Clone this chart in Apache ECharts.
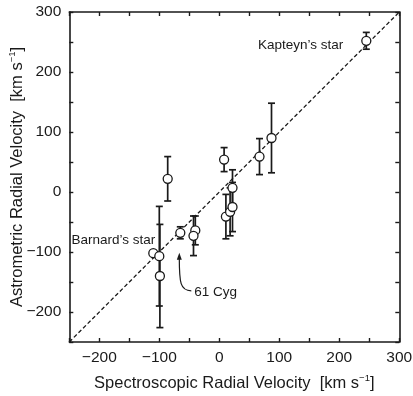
<!DOCTYPE html>
<html>
<head>
<meta charset="utf-8">
<script src="https://cdn.jsdelivr.net/npm/echarts@6/dist/echarts.min.js"></script>
<style>
  html, body { margin: 0; padding: 0; background: #fff; }
  #chart { width: 413px; height: 396px; }
</style>
</head>
<body>
<div id="chart"></div>
<script>
// Spectroscopic vs astrometric radial velocities (km/s)
const spectroscopic = [245, 87, 67, 8, 22, 11, 18, 22, -40, -43, -65, -86, -110, -100, -99];
const astrometric   = [252, 90, 59, 54, 7, -41, -33, -25, -64, -73, -68, 22, -102, -107, -140];
const astromErr     = [14, 58, 30, 20, 30, 37, 40, 41, 24, 33, 10, 37, 4, 83, 86];

const axisMin = -250, axisMax = 300, tickStep = 50;
const identityLine = [[-250, -250], [300, 300]];

const FONT = '"Liberation Sans", Arial, sans-serif';
const INK = '#1a1a1a';

const points = spectroscopic.map((x, i) => [x, astrometric[i]]);
const bars = spectroscopic.map((x, i) => [x, astrometric[i] - astromErr[i], astrometric[i] + astromErr[i]]);

function tickLabel(v) {
  if (v % 100 !== 0) return '';
  return v < 0 ? '\u2212' + (-v) : String(v);
}

function valueAxis(extra) {
  return Object.assign({
    type: 'value', min: axisMin, max: axisMax, interval: tickStep,
    splitLine: { show: false },
    axisLine: { show: true, onZero: false, lineStyle: { color: INK, width: 1.6 } },
    axisTick: { show: true, inside: true, length: 4, lineStyle: { color: INK, width: 1.4 } },
    axisLabel: { show: true, formatter: tickLabel, fontFamily: FONT, fontSize: 15.5, color: INK, margin: 8 }
  }, extra);
}

const chart = echarts.init(document.getElementById('chart'), null, { renderer: 'canvas' });

const nameRich = {
  n: { fontFamily: FONT, fontSize: 16.5, color: INK },
  s: { fontFamily: FONT, fontSize: 9.5, color: INK, padding: [0, 0, 10, 0] }
};

chart.setOption({
  animation: false,
  backgroundColor: '#fff',
  grid: { left: 69.3, right: 13.7, top: 12, bottom: 54, outerBoundsMode: 'none', containLabel: false },
  xAxis: [
    valueAxis({
      position: 'bottom',
      name: '{n|Spectroscopic Radial Velocity  [km s}{s|\u22121}{n|]}',
      nameLocation: 'middle', nameGap: 31, nameMoveOverlap: false,
      nameTextStyle: { rich: nameRich }
    }),
    valueAxis({ position: 'top', axisLabel: { show: false } })
  ],
  yAxis: [
    valueAxis({
      position: 'left',
      name: '{n|Astrometric Radial Velocity  [km s}{s|\u22121}{n|]}',
      nameLocation: 'middle', nameGap: 42, nameMoveOverlap: false,
      nameTextStyle: { rich: nameRich }
    }),
    valueAxis({ position: 'right', axisLabel: { show: false } })
  ],
  series: [
    {
      type: 'line',
      data: identityLine,
      symbol: 'none',
      lineStyle: { color: INK, width: 1.3, type: [4, 2.5] },
      z: 1
    },
    {
      type: 'custom',
      data: bars,
      encode: { x: 0, y: [1, 2] },
      renderItem: function (params, api) {
        const x = api.value(0);
        const lo = api.coord([x, api.value(1)]);
        const hi = api.coord([x, api.value(2)]);
        const cap = 3.5;
        const style = { stroke: INK, lineWidth: 1.7 };
        return {
          type: 'group',
          children: [
            { type: 'line', shape: { x1: lo[0], y1: lo[1], x2: hi[0], y2: hi[1] }, style: style },
            { type: 'line', shape: { x1: lo[0] - cap, y1: lo[1], x2: lo[0] + cap, y2: lo[1] }, style: style },
            { type: 'line', shape: { x1: hi[0] - cap, y1: hi[1], x2: hi[0] + cap, y2: hi[1] }, style: style }
          ]
        };
      },
      z: 2
    },
    {
      type: 'scatter',
      data: points,
      symbol: 'circle',
      symbolSize: 9,
      itemStyle: { color: '#fff', borderColor: INK, borderWidth: 1.3, opacity: 1 },
      z: 3
    }
  ]
});

// Annotations anchored to data coordinates
function px(v) { return chart.convertToPixel({ xAxisIndex: 0, yAxisIndex: 0 }, v); }

const kap = px([245, 252]);
const bar = px([-110, -102]);
const cyg = px([-65, -68]);

const head = [cyg[0] - 1, cyg[1] + 20];
const tail = [head[0] + 12, head[1] + 38];

chart.setOption({
  graphic: [
    {
      type: 'text', x: kap[0] - 23, y: kap[1] + 4,
      style: { text: 'Kapteyn\u2019s star', fontFamily: FONT, fontSize: 13.5, fill: INK, align: 'right', verticalAlign: 'middle' }
    },
    {
      type: 'text', x: bar[0] + 2, y: bar[1] - 13,
      style: { text: 'Barnard\u2019s star', fontFamily: FONT, fontSize: 13.5, fill: INK, align: 'right', verticalAlign: 'middle' }
    },
    {
      type: 'text', x: tail[0] + 3, y: tail[1] + 1,
      style: { text: '61 Cyg', fontFamily: FONT, fontSize: 13.5, fill: INK, align: 'left', verticalAlign: 'middle' }
    },
    {
      type: 'bezierCurve',
      shape: {
        x1: tail[0], y1: tail[1],
        cpx1: head[0] + 1, cpy1: tail[1],
        cpx2: head[0], cpy2: tail[1] - 8,
        x2: head[0], y2: head[1] + 5
      },
      style: { stroke: INK, lineWidth: 1.2, fill: null }
    },
    {
      type: 'polygon',
      shape: { points: [[head[0], head[1]], [head[0] - 2.5, head[1] + 7], [head[0] + 2.5, head[1] + 7]] },
      style: { fill: INK }
    }
  ]
});
</script>
</body>
</html>
